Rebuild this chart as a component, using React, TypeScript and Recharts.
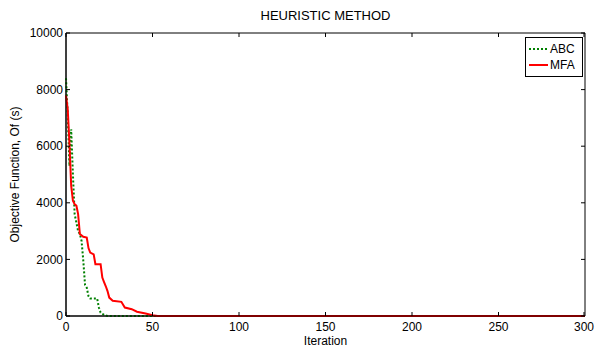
import React from 'react';
import { LineChart, Line, XAxis, YAxis, Legend, ReferenceArea } from 'recharts';

const abcIter = [0, 1, 2, 3, 4, 5, 6, 7, 8, 9, 10, 11, 12, 13, 14, 18, 19, 20, 22, 24, 300];
const abcValues = [8400, 7100, 5300, 6600, 5000, 3600, 3300, 3000, 2900, 2650, 1950, 1100, 1000, 700, 620, 620, 300, 120, 40, 0, 0];

const mfaIter = [0, 1, 2, 3, 4, 5, 6, 7, 8, 10, 12, 13, 14, 16, 17, 20, 21, 22, 23, 24, 25, 27, 32, 34, 38, 41, 46, 50, 53, 300];
const mfaValues = [7800, 7300, 6100, 4600, 4070, 3950, 3900, 3600, 2900, 2800, 2770, 2400, 2240, 2180, 1830, 1830, 1360, 1200, 1050, 880, 650, 540, 500, 300, 240, 150, 90, 30, 0, 0];

const xTicks = [0, 50, 100, 150, 200, 250, 300];
const yTicks = [0, 2000, 4000, 6000, 8000, 10000];

const abcData = abcIter.map((it, i) => ({ it, ABC: abcValues[i] }));
const mfaData = mfaIter.map((it, i) => ({ it, MFA: mfaValues[i] }));

const series = [
  { key: 'ABC', color: '#008000', dash: '2 2' },
  { key: 'MFA', color: '#ff0000', dash: undefined },
];

const FONT = '"Liberation Sans", Arial, sans-serif';
const PLOT_W = 519;
const PLOT_H = 283;
const TICK_MARGIN = 6;
const TICK_LEN = 4;

const XTick = (props: any) => {
  const { x, y, payload } = props;
  const axisY = y - TICK_MARGIN;
  return (
    <g>
      <line x1={x} x2={x} y1={axisY} y2={axisY - TICK_LEN} stroke="#000" />
      <line x1={x} x2={x} y1={axisY - PLOT_H} y2={axisY - PLOT_H + TICK_LEN} stroke="#000" />
      <text x={x} y={y} dy="0.71em" textAnchor="middle" fontSize={12} fill="#000" fontFamily={FONT}>
        {payload.value}
      </text>
    </g>
  );
};

const YTick = (props: any) => {
  const { x, y, payload } = props;
  const axisX = x + 3;
  return (
    <g>
      <line x1={axisX} x2={axisX + TICK_LEN} y1={y} y2={y} stroke="#000" />
      <line x1={axisX + PLOT_W} x2={axisX + PLOT_W - TICK_LEN} y1={y} y2={y} stroke="#000" />
      <text x={x} y={y} dy="0.35em" textAnchor="end" fontSize={12} fill="#000" fontFamily={FONT}>
        {payload.value}
      </text>
    </g>
  );
};

const LegendBox = () => (
  <div
    style={{
      border: '1px solid #000',
      background: '#fff',
      padding: '3px 3px',
      fontSize: 12,
      fontFamily: FONT,
      color: '#000',
      lineHeight: '16px',
    }}
  >
    {series.map((s) => (
      <div key={s.key} style={{ display: 'flex', alignItems: 'center', height: 16 }}>
        <svg width={19} height={4}>
          <line x1={0} x2={19} y1={2} y2={2} stroke={s.color} strokeWidth={2} strokeDasharray={s.dash} />
        </svg>
        <span style={{ marginLeft: 2 }}>{s.key}</span>
      </div>
    ))}
  </div>
);

export default function App() {
  return (
    <div style={{ position: 'absolute', left: 0, top: 0, width: 596, height: 349, background: '#fff' }}>
      <div
        style={{
          position: 'absolute',
          left: 66,
          width: PLOT_W,
          top: 8,
          textAlign: 'center',
          fontFamily: FONT,
          fontSize: 13,
          color: '#000',
        }}
      >
        HEURISTIC METHOD
      </div>
      <LineChart width={596} height={349} margin={{ top: 33, right: 11, left: 0, bottom: 0 }}>
        <XAxis
          dataKey="it"
          type="number"
          domain={[0, 300]}
          ticks={xTicks}
          allowDuplicatedCategory={false}
          height={33}
          tickSize={0}
          tickMargin={TICK_MARGIN}
          tickLine={false}
          tick={<XTick />}
          axisLine={{ stroke: '#000' }}
          label={{ value: 'Iteration', position: 'insideBottom', offset: 4, fill: '#000', fontSize: 12, fontFamily: FONT }}
        />
        <YAxis
          type="number"
          domain={[0, 10000]}
          ticks={yTicks}
          width={66}
          tickSize={0}
          tickMargin={3}
          tickLine={false}
          tick={<YTick />}
          axisLine={{ stroke: '#000' }}
          label={{
            value: 'Objective Function, Of (s)',
            angle: -90,
            position: 'insideLeft',
            offset: 15,
            fill: '#000',
            fontSize: 12,
            fontFamily: FONT,
            style: { textAnchor: 'middle' },
          }}
        />
        <ReferenceArea x1={0} x2={300} y1={0} y2={10000} fill="none" stroke="#000" strokeWidth={1} ifOverflow="visible" />
        <Line
          data={abcData}
          dataKey="ABC"
          type="linear"
          stroke="#008000"
          strokeWidth={2}
          strokeDasharray="2 2"
          dot={false}
          isAnimationActive={false}
        />
        <Line
          data={mfaData}
          dataKey="MFA"
          type="linear"
          stroke="#ff0000"
          strokeWidth={2}
          dot={false}
          isAnimationActive={false}
        />
        <Legend
          layout="horizontal"
          verticalAlign="middle"
          align="center"
          content={<LegendBox />}
          wrapperStyle={{ top: 37, left: 525, width: 58 }}
        />
      </LineChart>
    </div>
  );
}
